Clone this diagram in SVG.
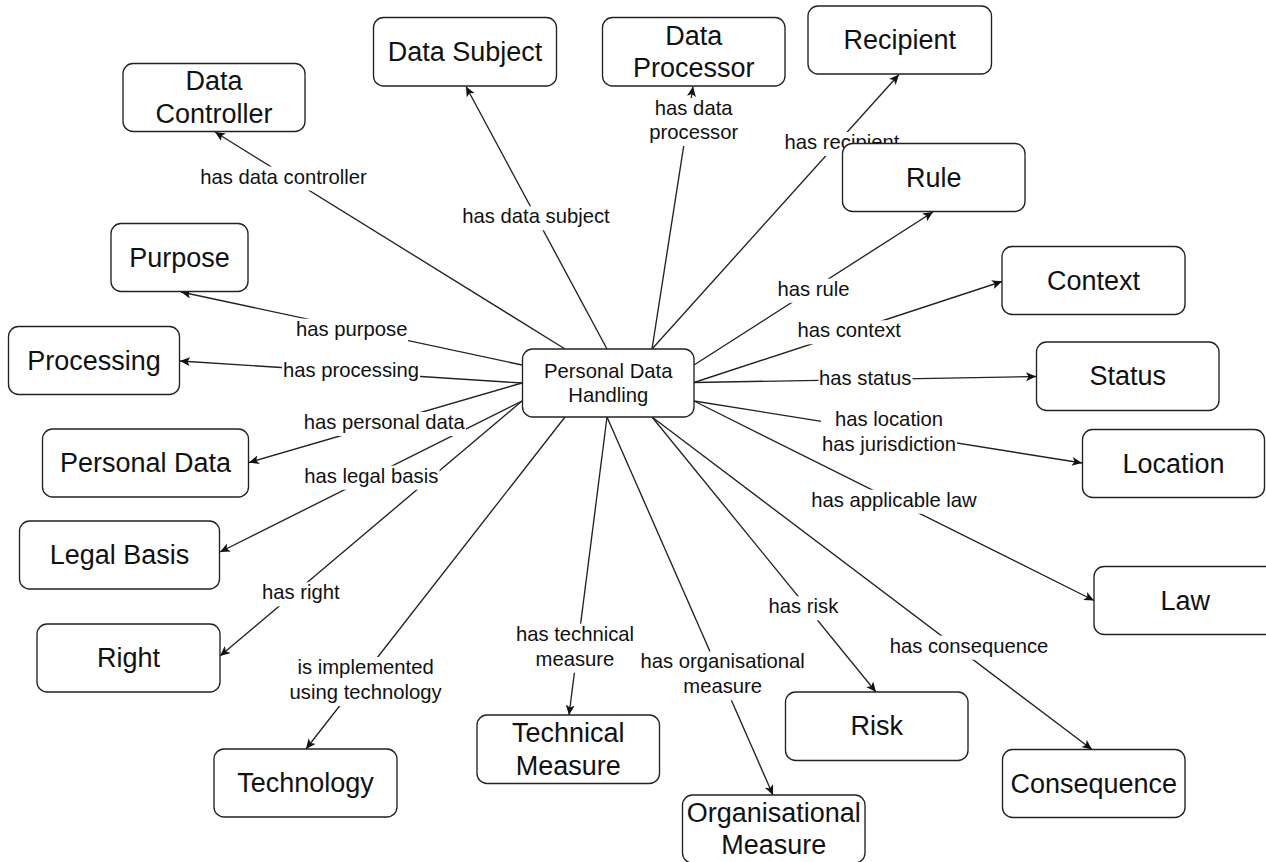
<svg xmlns="http://www.w3.org/2000/svg" width="1266" height="862" viewBox="0 0 1266 862">
<style>
.node rect{fill:#fff;stroke:#222;stroke-width:1.35}
.node text{font-family:"Liberation Sans",Arial,Helvetica,sans-serif;font-size:27px;fill:#111;text-anchor:middle}
.node.center text{font-size:20.25px}
.edge line{stroke:#222;stroke-width:1.35;fill:none;marker-end:url(#arr)}
.edge rect{fill:#fff;stroke:none}
.edge text{font-family:"Liberation Sans",Arial,Helvetica,sans-serif;font-size:20.25px;fill:#111;text-anchor:middle}
</style>
<defs>
<marker id="arr" markerWidth="12" markerHeight="10" refX="10" refY="4.5" orient="auto" markerUnits="userSpaceOnUse">
<path d="M0,0 L10,4.5 L0,9 L2.5,4.5 Z" fill="#111"/>
</marker>
</defs>
<rect width="1266" height="862" fill="#fff"/>
<g id="connectors">
<g class="edge" id="e-data-controller"><line x1="565" y1="349" x2="215" y2="132"/><rect x="199" y="166.5" width="169" height="24"/><text x="283.5" y="183.5">has data controller</text></g>
<g class="edge" id="e-data-subject"><line x1="607" y1="349" x2="466" y2="86.5"/><rect x="461" y="206.3" width="150" height="24"/><text x="536" y="223.3">has data subject</text></g>
<g class="edge" id="e-data-processor"><line x1="652" y1="349" x2="693" y2="86.5"/><rect x="648" y="98" width="91" height="48"/><text x="693.7" y="115"><tspan x="693.7" y="115">has data</tspan><tspan x="693.7" y="139.3">processor</tspan></text></g>
<g class="edge" id="e-recipient"><line x1="652" y1="349" x2="899" y2="74.5"/><rect x="784" y="132" width="117" height="24"/><text x="842" y="149">has recipient</text></g>
<g class="edge" id="e-rule"><line x1="694" y1="365" x2="933" y2="212"/><rect x="777" y="278.7" width="74" height="24"/><text x="813.6" y="295.7">has rule</text></g>
<g class="edge" id="e-context"><line x1="694" y1="382.5" x2="1002" y2="281.5"/><rect x="797" y="320.3" width="106" height="24"/><text x="849.2" y="337.3">has context</text></g>
<g class="edge" id="e-status"><line x1="694" y1="382.5" x2="1036" y2="376.5"/><rect x="818.5" y="368" width="94" height="24"/><text x="865.2" y="385">has status</text></g>
<g class="edge" id="e-location"><line x1="694" y1="401" x2="1082" y2="463"/><rect x="821" y="409" width="136" height="48.7"/><text x="889" y="426"><tspan x="889" y="426">has location</tspan><tspan x="889" y="450.7">has jurisdiction</tspan></text></g>
<g class="edge" id="e-law"><line x1="694" y1="401" x2="1094" y2="600.5"/><rect x="810.5" y="489.7" width="167" height="24"/><text x="894" y="506.7">has applicable law</text></g>
<g class="edge" id="e-consequence"><line x1="652" y1="417" x2="1092" y2="749.5"/><rect x="889" y="635.7" width="160" height="24"/><text x="969" y="652.7">has consequence</text></g>
<g class="edge" id="e-risk"><line x1="652" y1="417" x2="876" y2="692"/><rect x="768" y="596.3" width="71" height="24"/><text x="803.4" y="613.3">has risk</text></g>
<g class="edge" id="e-org-measure"><line x1="607" y1="417" x2="773" y2="795"/><rect x="640" y="651.3" width="166" height="49"/><text x="722.7" y="668.3"><tspan x="722.7" y="668.3">has organisational</tspan><tspan x="722.7" y="693.3">measure</tspan></text></g>
<g class="edge" id="e-tech-measure"><line x1="607" y1="417" x2="569" y2="715"/><rect x="515.5" y="623.7" width="120" height="49"/><text x="575" y="640.7"><tspan x="575" y="640.7">has technical</tspan><tspan x="575" y="665.7">measure</tspan></text></g>
<g class="edge" id="e-technology"><line x1="565" y1="417" x2="306" y2="749"/><rect x="288.5" y="657" width="154" height="49"/><text x="365.6" y="674"><tspan x="365.6" y="674">is implemented</tspan><tspan x="365.6" y="699">using technology</tspan></text></g>
<g class="edge" id="e-right"><line x1="522" y1="401" x2="220" y2="656"/><rect x="261" y="582.3" width="80" height="24"/><text x="300.8" y="599.3">has right</text></g>
<g class="edge" id="e-legal-basis"><line x1="522" y1="401" x2="220" y2="552"/><rect x="303.5" y="465.7" width="136" height="24"/><text x="371.3" y="482.7">has legal basis</text></g>
<g class="edge" id="e-personal-data"><line x1="522" y1="383" x2="249" y2="462.5"/><rect x="303" y="412" width="163" height="24"/><text x="384.2" y="429">has personal data</text></g>
<g class="edge" id="e-processing"><line x1="522" y1="383" x2="180" y2="361"/><rect x="282" y="359.7" width="138" height="24"/><text x="351" y="376.7">has processing</text></g>
<g class="edge" id="e-purpose"><line x1="522" y1="365" x2="181" y2="292"/><rect x="295" y="318.7" width="113" height="24"/><text x="351.7" y="335.7">has purpose</text></g>
</g>
<g id="nodes">
<g class="node" id="n-data-controller"><rect x="123" y="63.5" width="182" height="68" rx="10"/><text x="214" y="90.25">Data</text><text x="214" y="122.75">Controller</text></g>
<g class="node" id="n-data-subject"><rect x="373.5" y="17.5" width="183" height="68.5" rx="10"/><text x="465" y="61">Data Subject</text></g>
<g class="node" id="n-data-processor"><rect x="602.5" y="17.5" width="182.5" height="68.5" rx="10"/><text x="693.75" y="44.5">Data</text><text x="693.75" y="77">Processor</text></g>
<g class="node" id="n-recipient"><rect x="808" y="6" width="183.5" height="68" rx="10"/><text x="899.75" y="49">Recipient</text></g>
<g class="node" id="n-rule"><rect x="842.5" y="143.5" width="182.5" height="68" rx="10"/><text x="933.75" y="186.5">Rule</text></g>
<g class="node" id="n-context"><rect x="1002" y="246.5" width="183" height="68" rx="10"/><text x="1093.5" y="289.5">Context</text></g>
<g class="node" id="n-status"><rect x="1036.5" y="342" width="182.5" height="68.5" rx="10"/><text x="1127.75" y="385.25">Status</text></g>
<g class="node" id="n-location"><rect x="1082.5" y="429.5" width="182" height="68" rx="10"/><text x="1173.5" y="472.5">Location</text></g>
<g class="node" id="n-law"><rect x="1094" y="566.5" width="182.5" height="68" rx="10"/><text x="1185.25" y="609.5">Law</text></g>
<g class="node" id="n-consequence"><rect x="1002.5" y="749.5" width="182.5" height="68" rx="10"/><text x="1093.75" y="792.5">Consequence</text></g>
<g class="node" id="n-risk"><rect x="785.5" y="692" width="182.5" height="68.5" rx="10"/><text x="876.75" y="735.25">Risk</text></g>
<g class="node" id="n-org-measure"><rect x="682.5" y="795" width="182.5" height="68" rx="10"/><text x="773.75" y="821.75">Organisational</text><text x="773.75" y="854.25">Measure</text></g>
<g class="node" id="n-tech-measure"><rect x="477" y="715" width="182.5" height="68.5" rx="10"/><text x="568.25" y="742">Technical</text><text x="568.25" y="774.5">Measure</text></g>
<g class="node" id="n-technology"><rect x="214" y="749" width="183" height="68" rx="10"/><text x="305.5" y="792">Technology</text></g>
<g class="node" id="n-right"><rect x="37" y="624" width="183" height="68" rx="10"/><text x="128.5" y="667">Right</text></g>
<g class="node" id="n-legal-basis"><rect x="19.5" y="521" width="200" height="68" rx="10"/><text x="119.5" y="564">Legal Basis</text></g>
<g class="node" id="n-personal-data"><rect x="42.5" y="429" width="206" height="68" rx="10"/><text x="145.5" y="472">Personal Data</text></g>
<g class="node" id="n-processing"><rect x="8.5" y="326.5" width="171" height="68" rx="10"/><text x="94" y="369.5">Processing</text></g>
<g class="node" id="n-purpose"><rect x="111" y="223.5" width="137" height="68" rx="10"/><text x="179.5" y="266.5">Purpose</text></g>
<g class="node center" id="n-center"><rect x="522.5" y="349" width="171.5" height="68" rx="10"/><text x="608.25" y="377.5">Personal Data</text><text x="608.25" y="402">Handling</text></g>
</g>
</svg>
